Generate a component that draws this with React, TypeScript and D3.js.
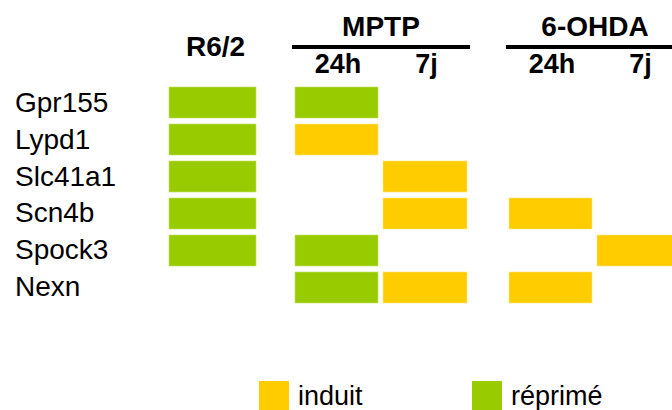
import React from "react";
import * as d3 from "d3";

// genes (rows) and conditions (columns)
const genes = ["Gpr155", "Lypd1", "Slc41a1", "Scn4b", "Spock3", "Nexn"];
const conditions = ["R6/2", "MPTP 24h", "MPTP 7j", "6-OHDA 24h", "6-OHDA 7j"];
const conditionLabels = ["", "24h", "7j", "24h", "7j"];
const groups = ["MPTP", "6-OHDA"];
const groupConditions = [
  ["MPTP 24h", "MPTP 7j"],
  ["6-OHDA 24h", "6-OHDA 7j"],
];

// "up" = induit, "down" = réprimé, null = no change
const r62 = ["down", "down", "down", "down", "down", null];
const mptp24h = ["down", "up", null, null, "down", "down"];
const mptp7j = [null, null, "up", "up", null, "up"];
const ohda24h = [null, null, null, "up", null, "up"];
const ohda7j = [null, null, null, null, "up", null];

const legendKeys = ["up", "down"];
const legendLabels = ["induit", "réprimé"];

const W = 672;
const H = 410;

const columns = [r62, mptp24h, mptp7j, ohda24h, ohda7j];

const color = d3
  .scaleOrdinal<string, string>()
  .domain(["up", "down"])
  .range(["#ffcc00", "#99cc00"]);

// column left edges
const x = d3
  .scaleOrdinal<string, number>()
  .domain(conditions)
  .range([169, 295, 383, 509, 597]);
const colW = d3
  .scaleOrdinal<string, number>()
  .domain(conditions)
  .range([87, 83, 84, 83, 84]);

const y = d3
  .scaleBand()
  .domain(genes)
  .range([87, 303])
  .paddingInner(0.162)
  .paddingOuter(0);

const legendX = d3
  .scaleOrdinal<string, number>()
  .domain(legendKeys)
  .range([259, 472]);

const font = "Arial, 'Liberation Sans', sans-serif";

function App() {
  const cells = columns.flatMap((col, ci) =>
    col.map((v, gi) => ({ cond: conditions[ci], gene: genes[gi], v }))
  ).filter((d) => d.v);

  return (
    <svg
      width={W}
      height={H}
      style={{ position: "absolute", left: 0, top: 0, background: "#fff" }}
      fontFamily={font}
    >
      {/* header */}
      <text
        x={x("R6/2")! + colW("R6/2")! / 2 + 3}
        y={56}
        textAnchor="middle"
        fontSize={28}
        fontWeight="bold"
      >
        R6/2
      </text>
      {groups.map((g, i) => {
        const [a, b] = groupConditions[i];
        const x0 = x(a)! - 3;
        const x1 = x(b)! + colW(b)! + 3;
        return (
          <g key={g}>
            <text x={(x0 + x1) / 2} y={36} textAnchor="middle" fontSize={28} fontWeight="bold">
              {g}
            </text>
            <line x1={x0} x2={x1} y1={47} y2={47} stroke="#000" strokeWidth={4} />
          </g>
        );
      })}
      {conditions.map((c, i) =>
        conditionLabels[i] ? (
          <text
            key={c}
            x={x(c)! + colW(c)! / 2 + 1.5}
            y={73}
            textAnchor="middle"
            fontSize={27}
            fontWeight="bold"
          >
            {conditionLabels[i]}
          </text>
        ) : null
      )}

      {/* row labels */}
      {genes.map((g) => (
        <text key={g} x={15} y={y(g)! + y.bandwidth() / 2 + 9} fontSize={28}>
          {g}
        </text>
      ))}

      {/* cells */}
      {cells.map((d) => (
        <rect
          key={d.cond + d.gene}
          x={x(d.cond)}
          y={y(d.gene)}
          width={colW(d.cond)}
          height={y.bandwidth()}
          fill={color(d.v as string)}
          stroke={d.v === "up" ? "#ffe680" : "#c2e066"}
          strokeWidth={0.6}
        />
      ))}

      {/* legend */}
      {legendKeys.map((k, i) => (
        <g key={k}>
          <rect x={legendX(k)} y={381} width={30} height={32} fill={color(k)} />
          <text x={legendX(k)! + 39} y={405} fontSize={27}>
            {legendLabels[i]}
          </text>
        </g>
      ))}
    </svg>
  );
}

export default App;
